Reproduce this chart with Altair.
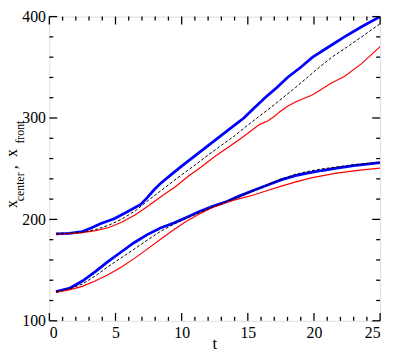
import altair as alt
import pandas as pd

# ---------------- data ----------------
# upper group: x_front
front_blue_t = [0.5, 1.5, 2.5, 3.2, 3.9, 4.9, 5.9, 6.9, 7.4, 7.9, 8.4, 9.25, 10, 11, 12, 13, 14, 14.7,
                15.5, 16.3, 17.2, 18.0, 19.0, 19.9, 21.1, 22.3, 23.6, 25]
front_blue_y = [185.8, 186.1, 188, 191.8, 195.9, 200.6, 207.6, 214.8, 221.5, 229, 235.5, 244.7, 252.5,
                262.6, 272.7, 282.8, 293, 300, 310, 320, 330, 340, 350, 360, 370, 380, 390, 400]

front_dash_t = [0.5, 1.5, 2.5, 3.5, 4.5, 5.5, 6.5, 7.4, 8.4, 9.9, 11, 12, 13, 14, 15, 15.7, 16.7, 17.65,
                18.6, 19.5, 20.4, 21.35, 22.5, 23.6, 25]
front_dash_y = [185.8, 186.3, 187.4, 190, 194.3, 200.5, 208.5, 218, 228, 243, 253.5, 263.5, 273, 282.5,
                293, 300, 310, 320, 330, 340, 350, 360, 370, 380, 393]

front_red_t = [0.5, 1.5, 2.5, 3.5, 4.5, 5.5, 6.5, 7.5, 8.5, 9.5, 10.5, 11.5, 12.5, 13.5, 14.5, 15.2, 15.9,
               16.5, 17.0, 17.4, 18.0, 18.6, 19.9, 20.6, 21.35, 22.3, 23.6, 25]
front_red_y = [185.8, 186, 187, 189, 192, 197.5, 204.5, 213.5, 223, 232, 242.5, 252, 262, 271, 280, 287,
               293.7, 297, 301.5, 306, 311.5, 315.8, 323, 328.5, 334.7, 341, 353.6, 370.4]

# lower group: x_center
center_blue_t = [0.5, 1.5, 2.5, 3.5, 4.4, 5.4, 6.4, 7.4, 8.4, 9.4, 10.4, 11.3, 12.3, 13.3, 14.3, 15.5,
                 16.5, 17.5, 18.6, 19.6, 20.6, 21.6, 23.0, 25]
center_blue_y = [128.8, 132, 139.2, 148.7, 158.1, 167.6, 177, 185, 191.5, 196.5, 202.2, 207.6, 212.6,
                 217, 222.7, 229, 234, 239, 243.2, 245.8, 248.2, 250.3, 253, 256]

center_dash_t = [0.5, 1.5, 2.47, 3.45, 4.44, 5.42, 6.41, 7.4, 8.38, 9.37, 10.36, 11.5, 12.5, 13.5, 14.5,
                 15.5, 16.5, 17.5, 18.6, 19.6, 20.6, 21.6, 23, 25]
center_dash_y = [128.5, 131.5, 136, 144, 153.4, 162, 170.7, 179.5, 188, 195, 201, 207.5, 213, 218, 223,
                 228.5, 234, 239.5, 244.5, 247.5, 249.8, 251.5, 254, 256.2]

center_red_t = [0.5, 1.5, 2.5, 3.45, 4.44, 5.42, 6.41, 7.4, 8.38, 9.37, 10.36, 11.34, 12.33, 13.31, 14.3,
                15.5, 16.6, 17.6, 18.64, 19.8, 21.6, 23.3, 25]
center_red_y = [128.2, 130.5, 134, 139.2, 145.5, 152.8, 161.3, 170.7, 180.2, 189.6, 198.1, 205.4, 211.7,
                216.4, 220.2, 224.3, 229, 233, 237, 241, 245.4, 248.3, 250.5]

# axis ticks / labels
x_major = [0, 5, 10, 15, 20, 25]
x_minor = [1, 2, 3, 4, 6, 7, 8, 9, 11, 12, 13, 14, 16, 17, 18, 19, 21, 22, 23, 24]
y_major = [100, 200, 300, 400]
y_minor = [120, 140, 160, 180, 220, 240, 260, 280, 320, 340, 360, 380]

# axis titles: y title with subscripts (text, subscript?)
title_pieces = [("x", False), ("center", True), (",", False), ("x", False), ("front", True)]
x_title = "t"

# ---------------- build table ----------------
curves = [
    ("front", "blue", front_blue_t, front_blue_y),
    ("front", "dash", front_dash_t, front_dash_y),
    ("front", "red", front_red_t, front_red_y),
    ("center", "blue", center_blue_t, center_blue_y),
    ("center", "dash", center_dash_t, center_dash_y),
    ("center", "red", center_red_t, center_red_y),
]
rows = []
for grp, sty, ts, vs in curves:
    for t, v in zip(ts, vs):
        rows.append({"group": grp, "style": sty, "t": t, "y": v})
df = pd.DataFrame(rows)

W, H = 336, 309
FONT = "Liberation Serif"
xs = alt.Scale(domain=[0, 25], nice=False, zero=False)
ys = alt.Scale(domain=[100, 400], nice=False, zero=False)

x_axis = alt.Axis(values=x_major, ticks=False, domain=False, grid=False, labelFont=FONT,
                  labelFontSize=16, labelColor="black", labelPadding=4, title=None)
y_axis = alt.Axis(values=y_major, ticks=False, domain=False, grid=False, labelFont=FONT,
                  labelFontSize=16, labelColor="black", labelPadding=4, title=None)

base = alt.Chart(df)


def curve(style, color, width, dash=None):
    kw = dict(color=color, strokeWidth=width, clip=True)
    if dash:
        kw["strokeDash"] = dash
    return base.transform_filter(alt.datum.style == style).mark_line(**kw).encode(
        x=alt.X("t:Q", scale=xs, axis=x_axis),
        y=alt.Y("y:Q", scale=ys, axis=y_axis),
        detail="group:N",
    )


blue = curve("blue", "#0000ff", 2.8)
red = curve("red", "#ff0000", 1.2)
dash = curve("dash", "#000000", 1.0, dash=[3, 2])

dxM = pd.DataFrame({"t": x_major})
dxm = pd.DataFrame({"t": x_minor})
dyM = pd.DataFrame({"y": y_major})
dym = pd.DataFrame({"y": y_minor})


def xticks(d, length):
    b = alt.Chart(d).mark_rule(color="black", strokeWidth=1.3)
    xe = alt.X("t:Q", scale=xs, axis=x_axis)
    return [b.encode(x=xe, y=alt.value(H), y2=alt.value(H - length)),
            b.encode(x=xe, y=alt.value(0), y2=alt.value(length))]


def yticks(d, length):
    b = alt.Chart(d).mark_rule(color="black", strokeWidth=1.3)
    ye = alt.Y("y:Q", scale=ys, axis=y_axis)
    return [b.encode(y=ye, x=alt.value(0), x2=alt.value(length)),
            b.encode(y=ye, x=alt.value(W), x2=alt.value(W - length))]


ticks = xticks(dxM, 8) + xticks(dxm, 4) + yticks(dyM, 8) + yticks(dym, 4)

# y-axis title with subscripts: x_center, x_front  (drawn bottom-to-top)
MAIN_X, SUB_X = -33, -26
piece_y = [194.5, 187.5, 155, 142.5, 129]
title_layers = []
for (txt, sub), py in zip(title_pieces, piece_y):
    title_layers.append(
        alt.Chart(alt.Data(values=[{"s": txt}])).mark_text(
            font=FONT, fontSize=12 if sub else 16, angle=270, align="left",
            baseline="alphabetic", color="black").encode(
            text="s:N", x=alt.value(SUB_X if sub else MAIN_X), y=alt.value(py))
    )

t_title = alt.Chart(alt.Data(values=[{"s": x_title}])).mark_text(
    font=FONT, fontSize=17, align="center", baseline="alphabetic", color="black").encode(
    text="s:N", x=alt.value(W / 2), y=alt.value(H + 29))

chart = alt.layer(blue, red, dash, *ticks, *title_layers, t_title).properties(
    width=W, height=H,
    autosize=alt.AutoSizeParams(type="none"),
    padding={"left": 42, "top": 6, "right": 8, "bottom": 31},
).configure_view(stroke="black", strokeWidth=2).configure(background="white")

chart.save("out.html", embed_options={"renderer": "svg", "actions": False})
